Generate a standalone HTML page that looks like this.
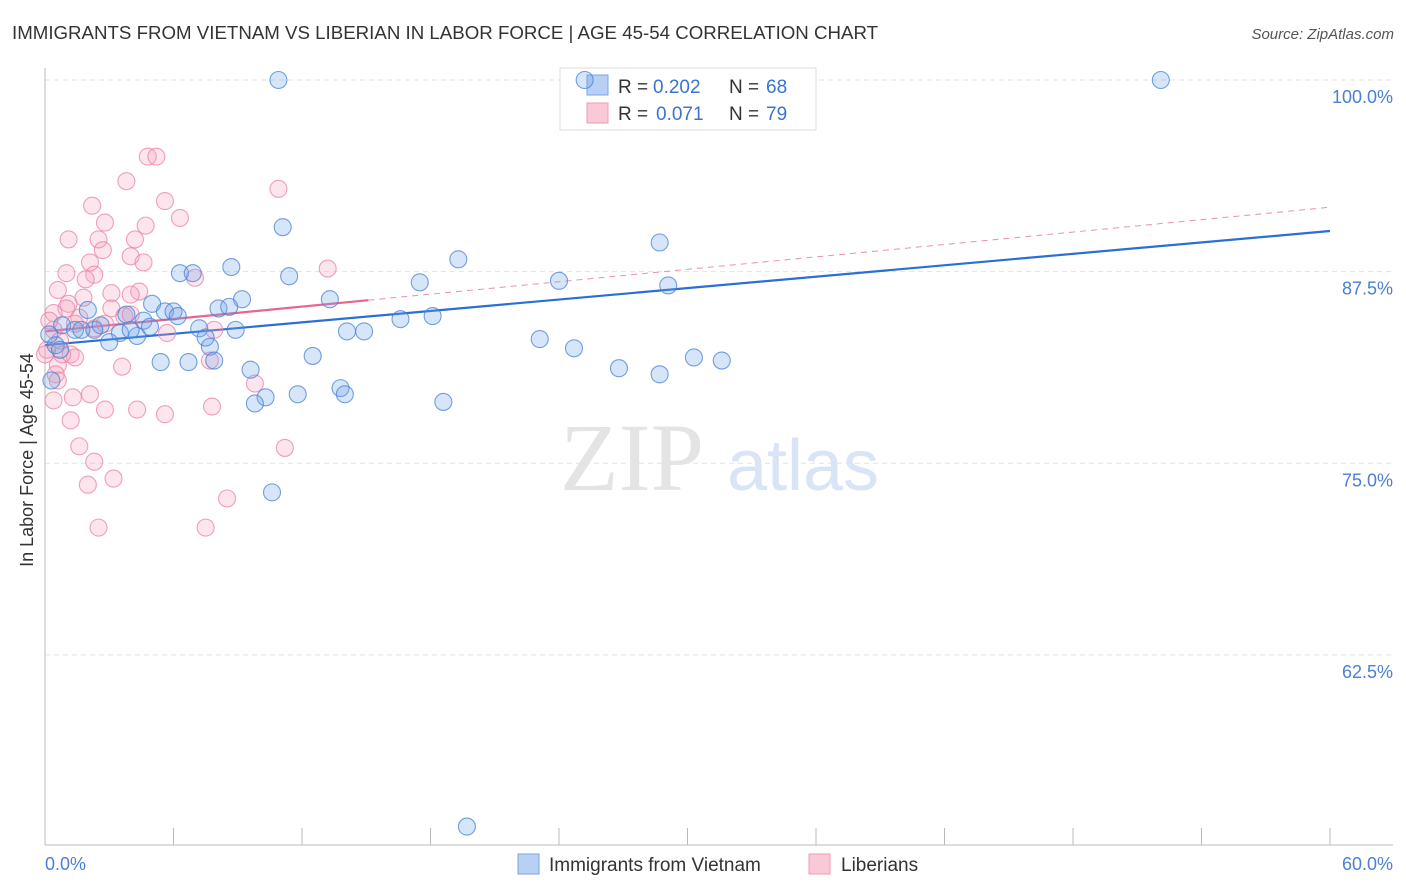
<!DOCTYPE html>
<html><head><meta charset="utf-8"><style>
body{margin:0;background:#fff;font-family:"Liberation Sans",sans-serif}
svg{display:block}
</style></head><body>
<svg id="chart" width="1406" height="892">
<text x="12" y="39" font-size="18.7" fill="#333">IMMIGRANTS FROM VIETNAM VS LIBERIAN IN LABOR FORCE | AGE 45-54 CORRELATION CHART</text>
<text x="1394" y="39" font-size="15" fill="#555" font-style="italic" text-anchor="end">Source: ZipAtlas.com</text>
<g id="grid"></g>
<g><text x="632" y="490" font-family="Liberation Serif,serif" font-size="96" fill="#e4e4e4" text-anchor="middle">ZIP</text><text x="803" y="490" font-size="72" fill="#d9e5f6" text-anchor="middle">atlas</text></g>
<g>
<rect x="560" y="68" width="256" height="62" fill="#fff" stroke="#ddd"/>
<rect x="587" y="75" width="21" height="20" fill="#b8d0f3" stroke="#7aa6e6"/>
<rect x="587" y="103" width="21" height="20" fill="#f9c9d7" stroke="#f09ab4"/>
<text x="618" y="93" font-size="19" fill="#333">R =</text><text x="653" y="93" font-size="19" fill="#3a74d0">0.202</text>
<text x="729" y="93" font-size="19" fill="#333">N =</text><text x="766" y="93" font-size="19" fill="#3a74d0">68</text>
<text x="618" y="120" font-size="19" fill="#333">R =</text><text x="656" y="120" font-size="19" fill="#3a74d0">0.071</text>
<text x="729" y="120" font-size="19" fill="#333">N =</text><text x="766" y="120" font-size="19" fill="#3a74d0">79</text>
</g>
<g id="axes"></g>
<g id="lines"></g>
<g id="pts"></g>
<text x="33" y="460" font-size="18" fill="#333" text-anchor="middle" transform="rotate(-90 33 460)">In Labor Force | Age 45-54</text>
<text x="45" y="870" font-size="18" fill="#4a7fd4">0.0%</text>
<text x="1393" y="870" font-size="18" fill="#4a7fd4" text-anchor="end">60.0%</text>
<g>
<rect x="518" y="854" width="21" height="20" fill="#b8d0f3" stroke="#7aa6e6"/>
<text x="549" y="871" font-size="19" fill="#333">Immigrants from Vietnam</text>
<rect x="809" y="854" width="21" height="20" fill="#f9c9d7" stroke="#f09ab4"/>
<text x="841" y="871" font-size="19" fill="#333">Liberians</text>
</g>
</svg>
<script>
const yTicks=[100,87.5,75,62.5];
const yTickLabels=["100.0%","87.5%","75.0%","62.5%"];
const blueX=[10.9,25.2,52.1,11.1,28.7,19.3,8.7,6.3,6.9,11.4,17.5,24.0,29.1,9.2,13.3,5.0,8.1,8.6,5.6,6.0,6.2,2.0,3.8,4.6,4.9,7.2,8.9,14.1,14.9,16.6,18.1,23.1,24.7,0.8,1.4,2.3,3.5,4.3,3.0,7.5,7.7,5.4,6.7,7.9,12.5,30.3,31.6,26.8,28.7,9.6,13.8,14.0,11.8,10.3,9.8,18.6,10.6,19.7,0.5,0.2,0.7,0.3,1.7,2.6,4.0];
const blueY=[100,100,100,90.4,89.4,88.3,87.8,87.4,87.4,87.2,86.8,86.9,86.6,85.7,85.7,85.4,85.1,85.2,84.9,84.9,84.6,85.0,84.7,84.3,83.9,83.8,83.7,83.6,83.6,84.4,84.6,83.1,82.5,84.0,83.7,83.7,83.5,83.3,82.9,83.2,82.6,81.6,81.6,81.7,82.0,81.9,81.7,81.2,80.8,81.1,79.9,79.5,79.5,79.3,78.9,79.0,73.1,51.3,82.7,83.4,82.4,80.4,83.7,84.0,83.7];
const pinkX=[4.8,5.2,3.8,10.9,5.6,2.2,6.3,2.8,4.7,1.1,2.5,4.2,2.7,4.0,2.1,4.6,1.0,2.3,13.2,7.0,1.9,0.6,3.1,1.8,4.4,4.0,1.1,1.0,3.1,3.7,4.0,0.4,1.6,1.4,2.8,2.3,5.7,7.9,0.4,0.7,0.1,0.6,1.2,1.4,3.6,7.7,0.5,0.6,9.8,0.4,1.3,2.1,2.8,4.3,5.6,7.8,1.2,1.6,2.3,11.2,3.2,2.0,8.5,2.5,7.5,0.0,0.2,0.8];
const pinkY=[95.0,95.0,93.4,92.9,92.1,91.8,91.0,90.7,90.5,89.6,89.6,89.6,88.9,88.5,88.1,88.1,87.4,87.3,87.7,87.1,87.0,86.3,86.1,85.8,86.2,86.0,85.4,85.1,85.1,84.6,84.7,84.8,84.5,84.1,84.1,83.8,83.5,83.7,83.7,83.0,82.4,81.4,82.1,81.9,81.3,81.7,80.8,80.4,80.2,79.1,79.3,79.5,78.5,78.5,78.2,78.7,77.8,76.1,75.1,76.0,74.0,73.6,72.7,70.8,70.8,82.1,84.3,82.1];
const blueTrend=[82.7,90.15];
const pinkTrend=[83.6,91.7];
const pinkSolidEnd=15.1;
const NS="http://www.w3.org/2000/svg";
const sx=v=>45+v*(1285/60);
const sy=v=>80+(100-v)*15.33;
function mk(tag,attrs,parent){const e=document.createElementNS(NS,tag);for(const k in attrs)e.setAttribute(k,attrs[k]);parent.appendChild(e);return e;}
const grid=document.getElementById('grid'),axes=document.getElementById('axes'),lines=document.getElementById('lines'),pts=document.getElementById('pts');
yTicks.forEach((t,i)=>{
 const l=mk('line',{x1:45,x2:1393,y1:sy(t),y2:sy(t),stroke:'#e2e2e2','stroke-dasharray':'5,4'},grid);
 
 
 const tx=mk('text',{x:1393,y:sy(t)+23,'font-size':18,fill:'#4a7fd4','text-anchor':'end'},axes);
 tx.textContent=yTickLabels[i];
 
 
});
const a1=mk('line',{x1:45,x2:1393,y1:845,y2:845,stroke:'#bbb'},axes);


const a2=mk('line',{x1:45,x2:45,y1:68,y2:845,stroke:'#bbb'},axes);


for(let i=0;i<=10;i++){
 const t=mk('line',{x1:sx(i*6),x2:sx(i*6),y1:828,y2:845,stroke:'#bbb'},axes);
 
 
}
function dots(X,Y,fill,stroke,name){
 X.forEach((x,i)=>{
  const c=mk('circle',{cx:sx(x),cy:sy(Y[i]),r:8.5,fill:fill,stroke:stroke,'stroke-width':1.1},pts);
  
  
 });
}
dots(pinkX,pinkY,'rgba(244,160,188,0.28)','rgba(236,130,165,0.75)','liberian-point');
dots(blueX,blueY,'rgba(110,160,230,0.28)','rgba(70,130,215,0.75)','vietnam-point');
const pf=x=>pinkTrend[0]+(pinkTrend[1]-pinkTrend[0])*x/60;
const pd=mk('line',{x1:sx(pinkSolidEnd),y1:sy(pf(pinkSolidEnd)),x2:sx(60),y2:sy(pinkTrend[1]),stroke:'#eb8fae','stroke-width':1,'stroke-dasharray':'6,5'},lines);


const bl=mk('line',{x1:sx(0),y1:sy(blueTrend[0]),x2:sx(60),y2:sy(blueTrend[1]),stroke:'#2a6fd6','stroke-width':2.2},lines);


const ps=mk('line',{x1:sx(0),y1:sy(pinkTrend[0]),x2:sx(pinkSolidEnd),y2:sy(pf(pinkSolidEnd)),stroke:'#e8658f','stroke-width':2.2},lines);


</script>
</body></html>
